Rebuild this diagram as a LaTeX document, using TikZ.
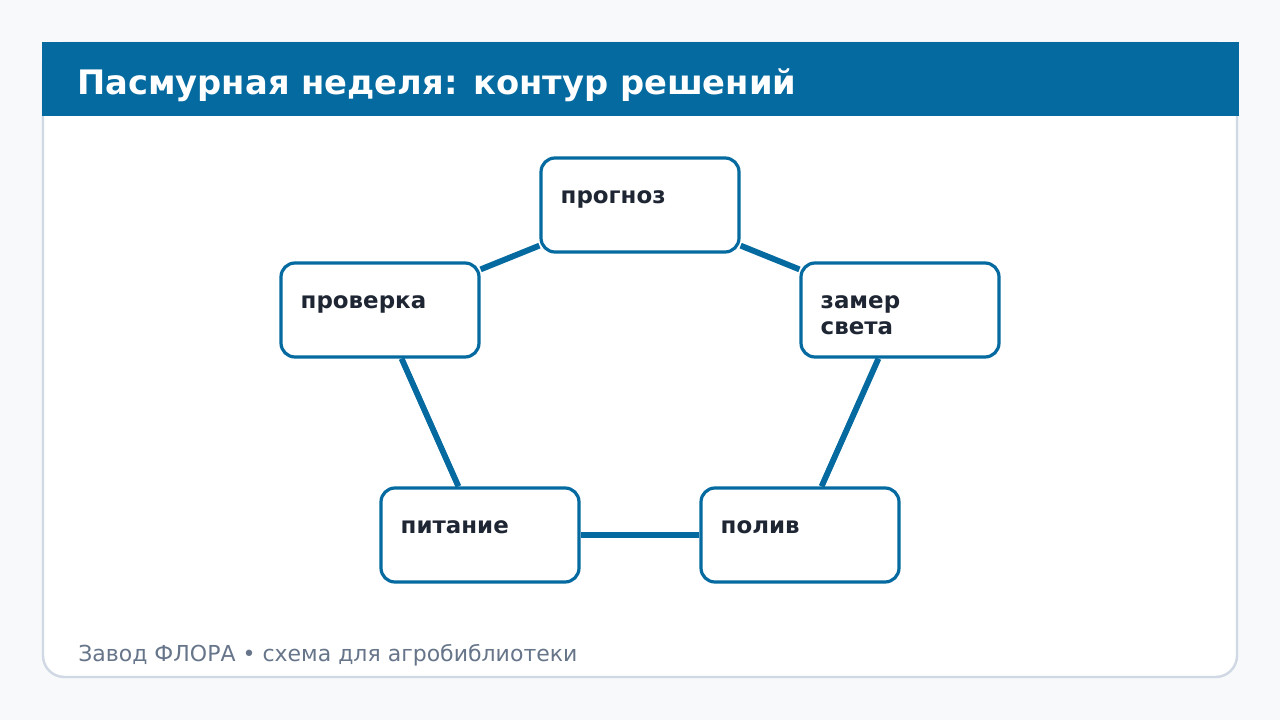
\documentclass[tikz,border=0pt]{standalone}
\usepackage{fontspec}
\setmainfont{DejaVu Sans}
\usetikzlibrary{positioning}

\definecolor{pagebg}{HTML}{F7F9FB}
\definecolor{cardline}{HTML}{CFD8E3}
\definecolor{headblue}{HTML}{046A9F}
\definecolor{inktext}{HTML}{1F2633}
\definecolor{foottext}{HTML}{66758A}

\begin{document}
\begin{tikzpicture}[
    x=0.75pt, y=-0.75pt,
    step box/.style={draw=headblue, fill=white, line width=2.4pt, rounded corners=10.5pt,
        minimum width=148.5pt, minimum height=70.5pt, inner sep=0pt},
    step text/.style={anchor=base west, inner sep=0pt, align=left, text=inktext,
        font=\bfseries\fontsize{17.2}{19.5}\selectfont},
    link/.style={draw=headblue, line width=4.4pt}
]

% --- Page and card ---
\useasboundingbox (0,0) rectangle (1280,720);
\fill[pagebg] (0,0) rectangle (1280,720);
\draw[cardline, fill=white, line width=1.8pt, rounded corners=16pt] (43,43) rectangle (1237,677);
\fill[headblue] (42,42) rectangle (1239,116);
\node[anchor=base west, inner sep=0pt, text=white, font=\bfseries\fontsize{25.3}{30}\selectfont]
    (title) at (77,95) {Пасмурная неделя: контур решений};

% --- Steps of the loop ---
\node[step box] (prognoz)  at (640,205) {};
\node[step box] (zamer)    at (900,310) {};
\node[step box] (poliv)    at (800,535) {};
\node[step box] (pitanie)  at (480,535) {};
\node[step box] (proverka) at (380,310) {};

% --- Links between steps ---
\foreach \a/\b in {prognoz/zamer, zamer/poliv, poliv/pitanie, pitanie/proverka, proverka/prognoz}
    \draw[link] (\a) -- (\b);

% --- Labels ---
\node[step text] (prognoz-t)  at ([shift={(21,47)}]prognoz.north west) {прогноз};
\node[step text] (zamer-t)    at ([shift={(21,73)}]zamer.north west) {замер\\света};
\node[step text] (poliv-t)    at ([shift={(21,47)}]poliv.north west) {полив};
\node[step text] (pitanie-t)  at ([shift={(21,47)}]pitanie.north west) {питание};
\node[step text] (proverka-t) at ([shift={(21,47)}]proverka.north west) {проверка};

% --- Footer ---
\node[anchor=base west, inner sep=0pt, text=foottext, font=\fontsize{16.5}{19}\selectfont]
    (footer) at (78,661) {Завод ФЛОРА • схема для агробиблиотеки};

\end{tikzpicture}
\end{document}
